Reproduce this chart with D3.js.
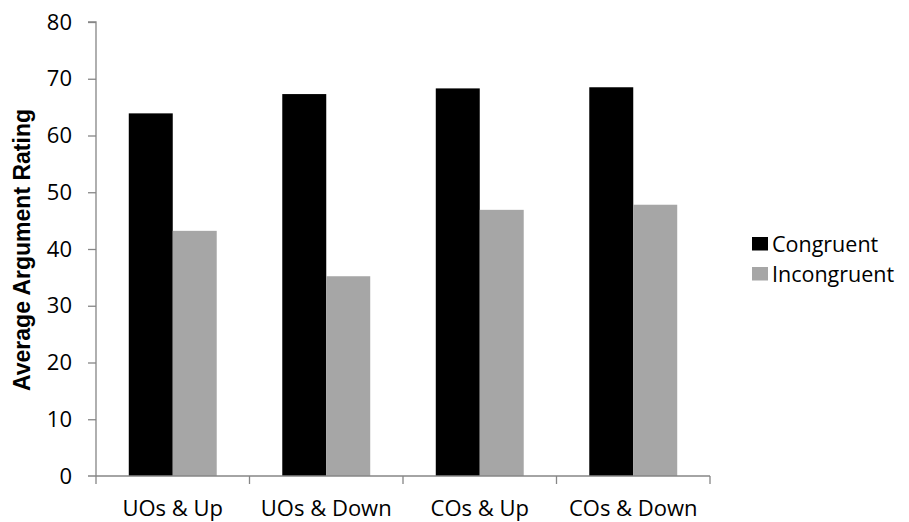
<!DOCTYPE html>
<html><head><meta charset="utf-8">
<script src="https://cdn.jsdelivr.net/npm/d3@7"></script>
<style>body{margin:0;background:#fff}svg{display:block}</style>
</head><body>
<script>
const categories = ["UOs & Up", "UOs & Down", "COs & Up", "COs & Down"];
const seriesNames = ["Congruent", "Incongruent"];
const congruent = [63.9, 67.3, 68.3, 68.5];
const incongruent = [43.2, 35.2, 46.9, 47.8];
const yTicks = [0, 10, 20, 30, 40, 50, 60, 70, 80];
const colors = ["#000000", "#a6a6a6"];

const W = 909, H = 522;
const mLeft = 96, mRight = 710, mTop = 22, mBottom = 476;
const svg = d3.select("body").append("svg").attr("width", W).attr("height", H);
const font = "'Open Sans', sans-serif";

const x0 = d3.scaleBand().domain(categories).range([mLeft, mRight]).paddingInner(0.427).paddingOuter(0.2135);
const x1 = d3.scaleBand().domain(seriesNames).range([0, x0.bandwidth()]);
const y = d3.scaleLinear().domain([0, 80]).range([mBottom, mTop]);

const data = categories.map((c, i) => ({cat: c, vals: [congruent[i], incongruent[i]]}));

// bars
const g = svg.append("g");
data.forEach(d => {
  d.vals.forEach((v, j) => {
    g.append("rect")
      .attr("x", x0(d.cat) + x1(seriesNames[j]))
      .attr("y", y(v))
      .attr("width", x1.bandwidth())
      .attr("height", y(0) - y(v))
      .attr("fill", colors[j]);
  });
});

// y axis
const yAxis = d3.axisLeft(y).tickValues(yTicks).tickSize(8).tickPadding(16).tickFormat(d3.format("d"));
const ya = svg.append("g").attr("transform", `translate(${mLeft},0)`).call(yAxis);
ya.select(".domain").attr("stroke", "#868686").attr("stroke-width", 1.3).attr("d", `M-8,${mTop}H0V${mBottom}`);
ya.selectAll(".tick line").attr("stroke", "#868686").attr("stroke-width", 1.3);
ya.selectAll(".tick text").attr("font-family", font).attr("font-size", 22).attr("fill", "#000");
ya.select(".tick:first-of-type line").remove();

// x axis
const xa = svg.append("g").attr("transform", `translate(0,${mBottom})`);
xa.append("line").attr("x1", mLeft - 8).attr("x2", mRight).attr("y1", 0).attr("y2", 0)
  .attr("stroke", "#868686").attr("stroke-width", 1.3);
const step = x0.step();
const bounds = categories.map((c, i) => mLeft + i * step).concat([mRight]);
xa.selectAll("line.tk").data(bounds).enter().append("line").attr("class", "tk")
  .attr("x1", d => d).attr("x2", d => d).attr("y1", 0).attr("y2", 8)
  .attr("stroke", "#868686").attr("stroke-width", 1.3);
xa.selectAll("text.cl").data(categories).enter().append("text").attr("class", "cl")
  .attr("x", d => x0(d) + x0.bandwidth() / 2).attr("y", 40)
  .attr("text-anchor", "middle").attr("font-family", font).attr("font-size", 22).attr("fill", "#000")
  .text(d => d);

// y title
svg.append("text")
  .attr("transform", `translate(29.5,${(mTop + mBottom) / 2 + 1}) rotate(-90)`)
  .attr("text-anchor", "middle")
  .attr("font-family", "'Liberation Sans', Arial, sans-serif")
  .attr("font-weight", "bold").attr("font-size", 23).attr("fill", "#000")
  .text("Average Argument Rating");

// legend
const lg = svg.append("g");
seriesNames.forEach((s, j) => {
  const yy = 237 + j * 30;
  lg.append("rect").attr("x", 752).attr("y", yy).attr("width", 16).attr("height", 13.5).attr("fill", colors[j]);
  lg.append("text").attr("x", 772).attr("y", yy + 14.5).attr("font-family", font).attr("font-size", 21.5)
    .attr("fill", "#000").text(s);
});
</script>
</body></html>
